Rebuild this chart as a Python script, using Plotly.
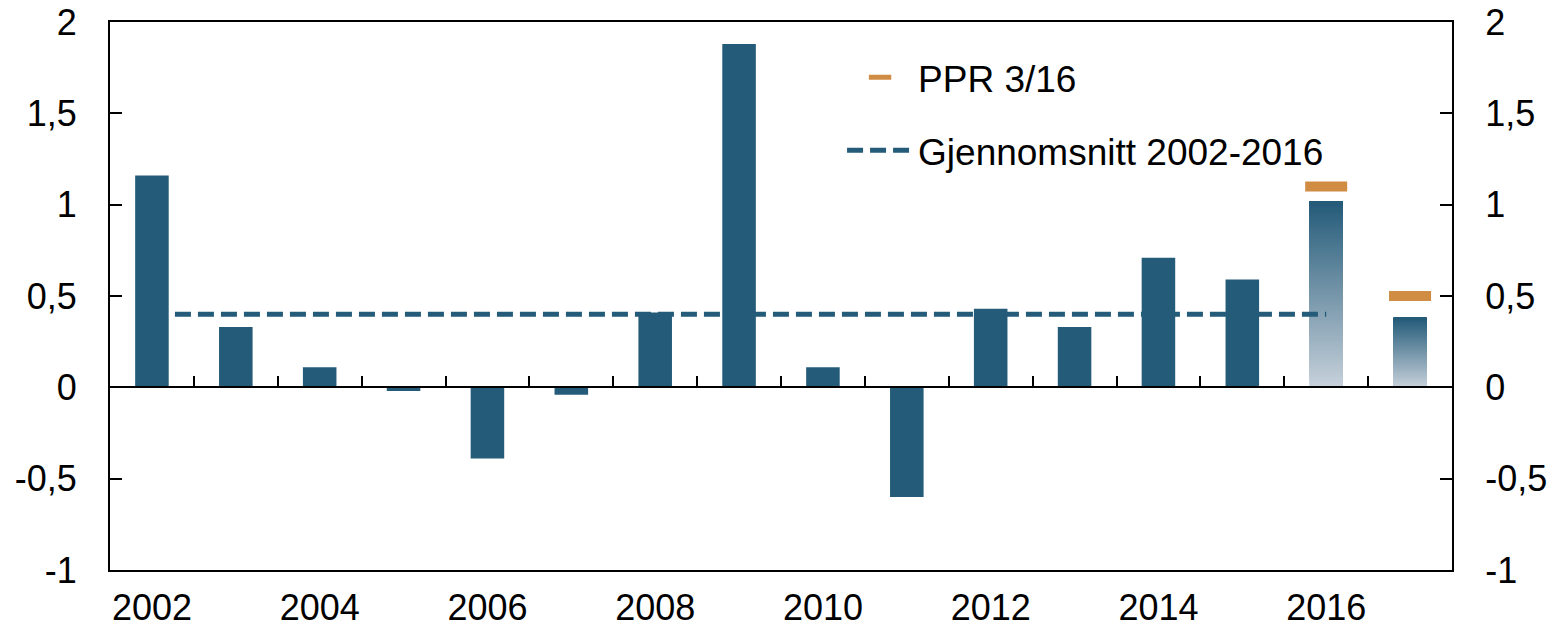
import plotly.graph_objects as go

# ---- data ----
years = list(range(2002, 2018))
growth = [1.16, 0.33, 0.11, -0.02, -0.39, -0.04, 0.41, 1.88, 0.11, -0.60,
          0.43, 0.33, 0.71, 0.59, 1.02, 0.38]
projected_years = [2016, 2017]
ppr_years = [2016, 2017]
ppr_values = [1.10, 0.50]
avg_years = [2002, 2016]
avg_values = [0.40, 0.40]
x_tick_vals = [2002, 2004, 2006, 2008, 2010, 2012, 2014, 2016]
x_tick_text = ["2002", "2004", "2006", "2008", "2010", "2012", "2014", "2016"]
boundary_ticks = [y + 0.5 for y in range(2001, 2018)]
y_tick_vals = [-1, -0.5, 0, 0.5, 1, 1.5, 2]
y_tick_text = ["-1", "-0,5", "0", "0,5", "1", "1,5", "2"]

# ---- style ----
DARK = (36, 91, 121)
LIGHT = (198, 208, 218)
ORANGE = "#d08c43"
FAM = "Liberation Sans, Arial, sans-serif"
FONT = dict(family=FAM, size=36, color="#000000")
LEG_FONT = dict(family=FAM, size=37, color="#000000")
BAR_W = 0.4
N_SEG = 80


def mix(t):
    r = [round(DARK[i] + (LIGHT[i] - DARK[i]) * t) for i in range(3)]
    return "rgb(%d,%d,%d)" % tuple(r)


fig = go.Figure()

# solid historical bars
hist_x = [y for y in years if y not in projected_years]
hist_y = [v for y, v in zip(years, growth) if y not in projected_years]
fig.add_trace(go.Bar(x=hist_x, y=hist_y, width=BAR_W,
                     marker=dict(color=mix(0), line=dict(width=0)),
                     showlegend=False, hoverinfo="skip"))

# gradient projected bars: overlapping slices from each level up to the top,
# drawn bottom-first so the visible colour at each height goes light -> dark
gx, gbase, gh, gcol = [], [], [], []
for y, v in zip(years, growth):
    if y in projected_years:
        step = v / N_SEG
        for i in range(N_SEG):
            b = i * step
            gx.append(y)
            gbase.append(b)
            gh.append(v - b)
            gcol.append(mix(1 - i / (N_SEG - 1)))
fig.add_trace(go.Bar(x=gx, y=gh, base=gbase, width=BAR_W,
                     marker=dict(color=gcol, line=dict(width=0)),
                     showlegend=False, hoverinfo="skip"))

# PPR markers
fig.add_trace(go.Scatter(x=ppr_years, y=ppr_values, mode="markers",
                         name="PPR 3/16", legendgroup="a",
                         marker=dict(symbol="line-ew", size=30, color=ORANGE,
                                     line=dict(color=ORANGE, width=10))))

# average dashed line (on overlay axes)
fig.add_trace(go.Scatter(x=avg_years, y=avg_values, mode="lines",
                         name="Gjennomsnitt 2002-2016", legendgroup="b",
                         xaxis="x2", yaxis="y2",
                         line=dict(color=mix(0), width=5, dash="16px,7px")))

xrange = [2001.5, 2017.5]
yrange = [-1, 2]

fig.update_layout(
    width=1557, height=632,
    margin=dict(l=110, r=105, t=22, b=62, autoexpand=False),
    paper_bgcolor="white", plot_bgcolor="white",
    font=FONT,
    barmode="overlay",
    showlegend=True,
    legend=dict(x=0.5455, y=0.955, xanchor="left", yanchor="top",
                bgcolor="rgba(0,0,0,0)", font=LEG_FONT, itemwidth=66,
                tracegroupgap=22, traceorder="grouped"),
    xaxis=dict(range=xrange, tickmode="array", tickvals=x_tick_vals,
               ticktext=x_tick_text, ticks="", showgrid=False, zeroline=False,
               showline=True, linecolor="black", linewidth=2, mirror=True,
               ticklabelstandoff=5, automargin=False),
    xaxis2=dict(range=xrange, overlaying="x", anchor="free", position=1 / 3,
                side="bottom", tickmode="array", tickvals=boundary_ticks,
                ticks="inside", ticklen=10, tickwidth=2, tickcolor="black",
                showticklabels=False, showgrid=False, zeroline=False,
                showline=True, linecolor="black", linewidth=2,
                automargin=False),
    yaxis=dict(range=yrange, tickmode="array", tickvals=y_tick_vals,
               ticktext=y_tick_text, ticks="inside", ticklen=12, tickwidth=2,
               tickcolor="black", showgrid=False, zeroline=False,
               showline=True, linecolor="black", linewidth=2,
               ticklabelstandoff=24, automargin=False),
    yaxis2=dict(range=yrange, overlaying="y", side="right", anchor="x",
                tickmode="array", tickvals=y_tick_vals, ticktext=y_tick_text,
                ticks="inside", ticklen=12, tickwidth=2, tickcolor="black",
                showgrid=False, zeroline=False, showline=True,
                linecolor="black", linewidth=2, ticklabelstandoff=24,
                automargin=False),
)

fig.write_html(
    "out.html",
    config={"displayModeBar": False},
    post_script="document.body.style.margin='0';document.body.style.overflow='hidden';",
)
